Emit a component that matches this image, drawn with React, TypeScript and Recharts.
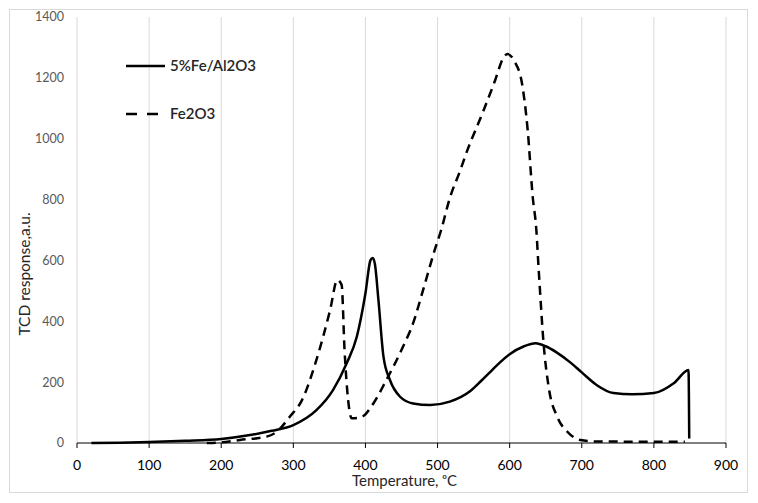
import React from "react";
import {
  LineChart,
  Line,
  XAxis,
  YAxis,
  CartesianGrid,
  Legend,
  Label,
} from "recharts";

// 5%Fe/Al2O3 TPR profile
const feAlTemp = [
  20, 60, 100, 150, 200, 240, 270, 300, 332, 355, 374, 388, 400, 407, 410, 413,
  418, 425, 434, 448, 466, 490, 517, 545, 560, 575, 587, 600, 620, 636, 650,
  665, 684, 700, 721, 744, 770, 800, 828, 848, 849,
];
const feAlSignal = [
  0, 1, 3, 7, 13, 26, 40, 59, 108, 174, 262, 349, 492, 601, 608, 590, 470, 284,
  207, 152, 130, 125, 136, 170, 203, 238, 266, 292, 318, 328, 318, 298, 265,
  232, 190, 164, 160, 164, 197, 240, 15,
];

// Fe2O3 TPR profile
const fe2o3Temp = [
  180, 200, 226, 263, 277, 295, 312, 332, 351, 361, 367, 371, 376, 381, 395,
  411, 429, 452, 466, 480, 496, 505, 517, 531, 541, 563, 580, 591, 597, 607,
  617, 625, 632, 637, 640, 642, 647, 654, 666, 680, 698, 720, 843,
];
const fe2o3Signal = [
  0, 2, 10, 21, 37, 86, 141, 273, 437, 536, 519, 306, 141, 81, 86, 130, 207,
  316, 393, 503, 634, 700, 805, 893, 960, 1088, 1193, 1265, 1278, 1253, 1183,
  1028, 808, 700, 579, 503, 328, 185, 86, 37, 10, 5, 4,
];

const xTicks = [0, 100, 200, 300, 400, 500, 600, 700, 800, 900];
const yTicks = [0, 200, 400, 600, 800, 1000, 1200, 1400];

const seriesNames = ["5%Fe/Al2O3", "Fe2O3"];

const feAlData = feAlTemp.map((t, i) => ({ temp: t, value: feAlSignal[i] }));
const fe2o3Data = fe2o3Temp.map((t, i) => ({ temp: t, value: fe2o3Signal[i] }));

const FONT = "Lato, 'Open Sans', sans-serif";

const renderLegend = () => (
  <svg width={220} height={80} style={{ display: "block" }}>
    <line x1={6} y1={18} x2={45} y2={18} stroke="#000" strokeWidth={2.5} />
    <text x={50} y={18} dy="0.35em" fontFamily={FONT} fontSize={15} fontWeight={600} fill="#262626">
      {seriesNames[0]}
    </text>
    <line x1={6} y1={66} x2={45} y2={66} stroke="#000" strokeWidth={2.5} strokeDasharray="11 10" />
    <text x={50} y={66} dy="0.35em" fontFamily={FONT} fontSize={15} fontWeight={600} fill="#262626">
      {seriesNames[1]}
    </text>
  </svg>
);

const XTitle = (props: any) => {
  const { viewBox } = props;
  const cx = viewBox.x + viewBox.width / 2 + 3;
  return (
    <text x={cx} y={473} dy="0.35em" textAnchor="middle" fontFamily={FONT} fontSize={15} fill="#262626">
      Temperature, ᵒC
    </text>
  );
};

const YTitle = () => (
  <text
    x={17}
    y={266}
    dy="0.35em"
    textAnchor="middle"
    transform="rotate(-90 17 266)"
    fontFamily={FONT}
    fontSize={15.5}
    fill="#262626"
  >
    TCD response,a.u.
  </text>
);

export default function App() {
  return (
    <div style={{ position: "relative", width: 750, height: 495 }}>
      <div
        style={{
          position: "absolute",
          left: 1,
          top: 1,
          width: 739,
          height: 484,
          boxSizing: "border-box",
          border: "1px solid #d9d9d9",
        }}
      />
      <LineChart
        width={750}
        height={495}
        margin={{ top: 9, right: 32, left: 19, bottom: 30 }}
      >
        <CartesianGrid vertical horizontal={false} stroke="#d9d9d9" strokeWidth={1} />
        <XAxis
          dataKey="temp"
          type="number"
          domain={[0, 900]}
          ticks={xTicks}
          allowDuplicatedCategory={false}
          height={30}
          stroke="#000"
          tickSize={5}
          tickMargin={12}
          tick={{ fill: "#000", fontSize: 14, fontFamily: FONT }}
        >
          <Label content={<XTitle />} />
        </XAxis>
        <YAxis
          type="number"
          domain={[0, 1400]}
          ticks={yTicks}
          width={50}
          axisLine={false}
          tickLine={false}
          tickSize={0}
          tickMargin={13}
          tick={{ fill: "#595959", fontSize: 12.5, fontFamily: FONT }}
        >
          <Label content={<YTitle />} />
        </YAxis>
        <Legend
          layout="vertical"
          align="center"
          verticalAlign="middle"
          wrapperStyle={{ left: 112, top: 40, width: 220, height: 80 }}
          content={renderLegend}
        />
        <Line
          data={feAlData}
          dataKey="value"
          name={seriesNames[0]}
          type="monotone"
          stroke="#000"
          strokeWidth={2.5}
          dot={false}
          isAnimationActive={false}
        />
        <Line
          data={fe2o3Data}
          dataKey="value"
          name={seriesNames[1]}
          type="monotone"
          stroke="#000"
          strokeWidth={2.5}
          strokeDasharray="9 6"
          dot={false}
          isAnimationActive={false}
        />
      </LineChart>
    </div>
  );
}
